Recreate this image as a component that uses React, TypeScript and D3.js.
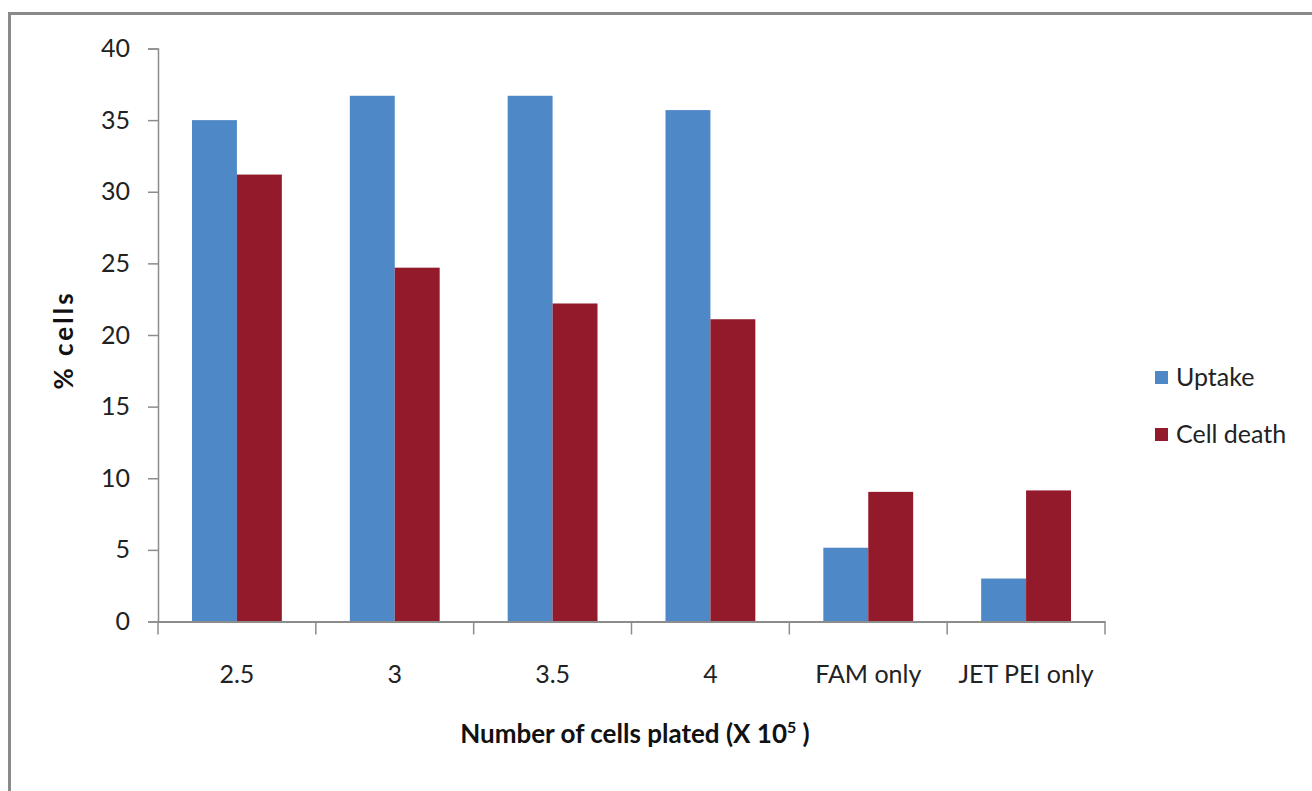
import { useEffect, useRef } from 'react';
import * as d3 from 'd3';

const categories = ['2.5', '3', '3.5', '4', 'FAM only', 'JET PEI only'];
const seriesNames = ['Uptake', 'Cell death'];
const uptake = [35.0, 36.7, 36.7, 35.7, 5.15, 3.0];
const cellDeath = [31.2, 24.7, 22.2, 21.1, 9.05, 9.15];
const yTicks = [0, 5, 10, 15, 20, 25, 30, 35, 40];
const colors = ['#4F88C6', '#931A2A'];

const W = 1312;
const H = 791;
const font = 'Lato, "Open Sans", sans-serif';

export default function App() {
  const svgRef = useRef<SVGSVGElement>(null);

  useEffect(() => {
    if (!svgRef.current) return;
    const svg = d3.select(svgRef.current);
    svg.selectAll('*').remove();

    const margin = { left: 158, right: W - 1105, top: 48.5, bottom: H - 621.5 };
    const innerW = W - margin.left - margin.right;
    const innerH = H - margin.top - margin.bottom;

    svg.append('rect').attr('width', W).attr('height', H).attr('fill', '#fff');

    // outer frame (only top and left are visible in the crop)
    svg.append('path')
      .attr('d', `M9.5,${H} L9.5,13.5 L${W},13.5`)
      .attr('fill', 'none')
      .attr('stroke', '#8a8a8a')
      .attr('stroke-width', 3);

    const g = svg.append('g').attr('transform', `translate(${margin.left},${margin.top})`);

    const x = d3.scaleBand().domain(categories).range([0, innerW]);
    const x1 = d3.scaleBand()
      .domain(seriesNames)
      .range([34, x.bandwidth() - 34]);
    const y = d3.scaleLinear().domain([0, 40]).range([innerH, 0]);

    const data = categories.map((c, i) => ({ cat: c, vals: [uptake[i], cellDeath[i]] }));

    const groups = g.selectAll('g.cat')
      .data(data)
      .enter()
      .append('g')
      .attr('class', 'cat')
      .attr('transform', d => `translate(${x(d.cat)},0)`);

    groups.selectAll('rect')
      .data(d => d.vals.map((v, j) => ({ name: seriesNames[j], v, j })))
      .enter()
      .append('rect')
      .attr('x', d => x1(d.name) || 0)
      .attr('width', x1.bandwidth())
      .attr('y', d => y(d.v))
      .attr('height', d => innerH - y(d.v))
      .attr('fill', d => colors[d.j]);

    const axisColor = '#8c8c8c';

    // Y axis
    const yAxis = g.append('g')
      .call(d3.axisLeft(y).tickValues(yTicks).tickSize(10).tickPadding(18));
    yAxis.select('.domain').attr('stroke', axisColor).attr('stroke-width', 1.5);
    yAxis.selectAll('.tick line').attr('stroke', axisColor).attr('stroke-width', 1.5);
    yAxis.selectAll('.tick text')
      .attr('fill', '#222')
      .style('font-family', font)
      .style('font-size', '25px');

    // X axis
    const xAxis = g.append('g')
      .attr('transform', `translate(0,${innerH})`)
      .call(d3.axisBottom(x).tickSize(0).tickPadding(44));
    xAxis.select('.domain').attr('stroke', axisColor).attr('stroke-width', 2);
    xAxis.selectAll('.tick text')
      .attr('fill', '#222')
      .style('font-family', font)
      .style('font-size', '25px');
    const edges = categories.map(c => x(c) || 0).concat([innerW]);
    xAxis.selectAll('line.sep')
      .data(edges)
      .enter()
      .append('line')
      .attr('class', 'sep')
      .attr('x1', d => d)
      .attr('x2', d => d)
      .attr('y1', 0)
      .attr('y2', 13)
      .attr('stroke', axisColor)
      .attr('stroke-width', 1.5);

    // X title
    const title = svg.append('text')
      .attr('x', 635)
      .attr('y', 743)
      .attr('text-anchor', 'middle')
      .attr('fill', '#111')
      .style('font-family', font)
      .style('font-size', '26px')
      .style('font-weight', 'bold');
    title.append('tspan').text('Number of cells plated (X 10');
    title.append('tspan').attr('dy', -10).style('font-size', '16px').text('5');
    title.append('tspan').attr('dy', 10).text(' )');

    // Y title
    svg.append('text')
      .attr('transform', 'translate(73,340) rotate(-90)')
      .attr('text-anchor', 'middle')
      .attr('fill', '#111')
      .style('font-family', font)
      .style('font-size', '26px')
      .style('font-weight', 'bold')
      .style('letter-spacing', '3px')
      .text('% cells');

    // Legend
    const legend = svg.append('g').attr('transform', 'translate(1155,366)');
    seriesNames.forEach((name, i) => {
      const row = legend.append('g').attr('transform', `translate(0,${i * 57})`);
      row.append('rect').attr('width', 13).attr('height', 13).attr('y', 5).attr('fill', colors[i]);
      row.append('text')
        .attr('x', 21)
        .attr('y', 20)
        .attr('fill', '#222')
        .style('font-family', font)
        .style('font-size', '25px')
        .text(name);
    });
  }, []);

  return (
    <svg
      ref={svgRef}
      width={W}
      height={H}
      style={{ position: 'absolute', left: 0, top: 0, display: 'block' }}
    ></svg>
  );
}
